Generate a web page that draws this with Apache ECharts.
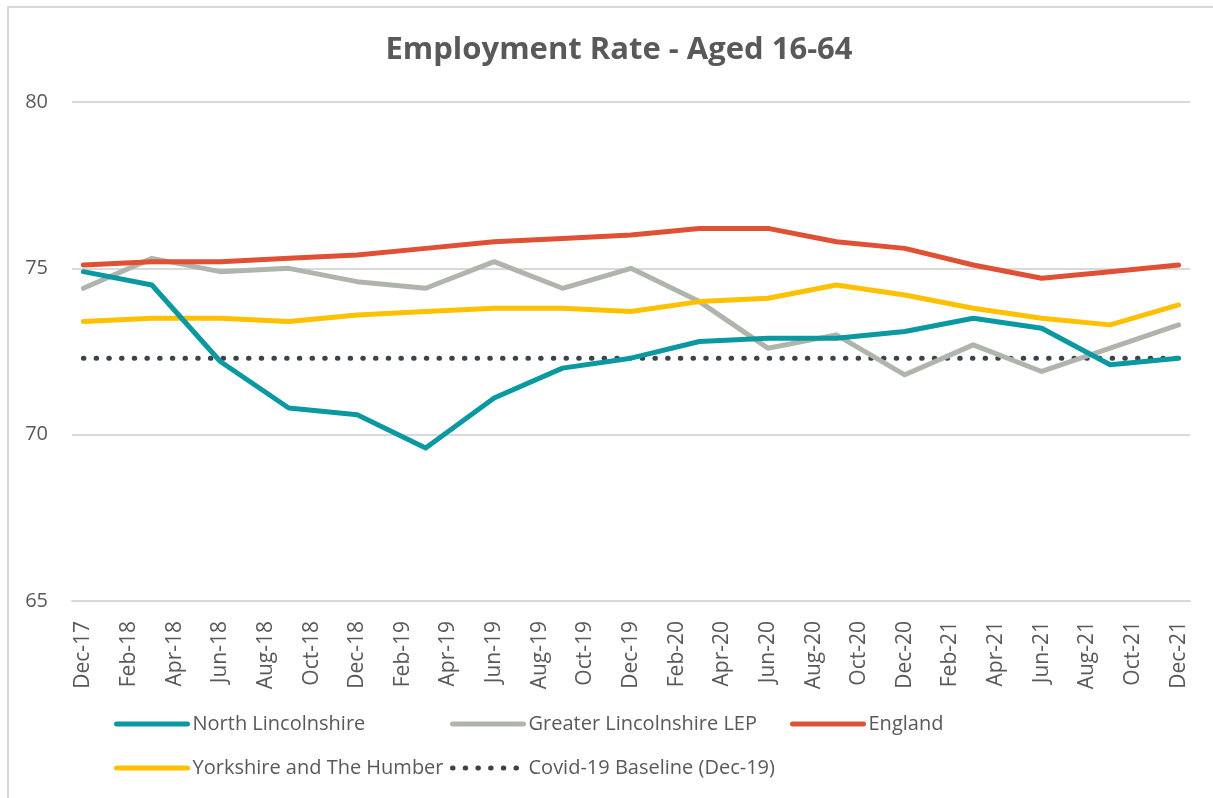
<!DOCTYPE html>
<html>
<head>
<meta charset="utf-8">
<title>Employment Rate - Aged 16-64</title>
<script src="https://cdn.jsdelivr.net/npm/echarts@6/dist/echarts.min.js"></script>
<style>
  html, body { margin: 0; padding: 0; background: #ffffff; }
  #chart { width: 1213px; height: 798px; }
</style>
</head>
<body>
<div id="chart"></div>
<script>
// Monthly category axis (labels shown every other month)
const months = [
  'Dec-17','Jan-18','Feb-18','Mar-18','Apr-18','May-18','Jun-18','Jul-18','Aug-18','Sep-18','Oct-18','Nov-18',
  'Dec-18','Jan-19','Feb-19','Mar-19','Apr-19','May-19','Jun-19','Jul-19','Aug-19','Sep-19','Oct-19','Nov-19',
  'Dec-19','Jan-20','Feb-20','Mar-20','Apr-20','May-20','Jun-20','Jul-20','Aug-20','Sep-20','Oct-20','Nov-20',
  'Dec-20','Jan-21','Feb-21','Mar-21','Apr-21','May-21','Jun-21','Jul-21','Aug-21','Sep-21','Oct-21','Nov-21',
  'Dec-21'
];

// Quarterly observation periods
const quarters = [
  'Dec-17','Mar-18','Jun-18','Sep-18','Dec-18','Mar-19','Jun-19','Sep-19','Dec-19',
  'Mar-20','Jun-20','Sep-20','Dec-20','Mar-21','Jun-21','Sep-21','Dec-21'
];

// Employment rate (%), aged 16-64
const northLincolnshire = [74.9, 74.5, 72.2, 70.8, 70.6, 69.6, 71.1, 72.0, 72.3, 72.8, 72.9, 72.9, 73.1, 73.5, 73.2, 72.1, 72.3];
const greaterLincsLEP   = [74.4, 75.3, 74.9, 75.0, 74.6, 74.4, 75.2, 74.4, 75.0, 74.0, 72.6, 73.0, 71.8, 72.7, 71.9, 72.6, 73.3];
const england           = [75.1, 75.2, 75.2, 75.3, 75.4, 75.6, 75.8, 75.9, 76.0, 76.2, 76.2, 75.8, 75.6, 75.1, 74.7, 74.9, 75.1];
const yorkshireHumber   = [73.4, 73.5, 73.5, 73.4, 73.6, 73.7, 73.8, 73.8, 73.7, 74.0, 74.1, 74.5, 74.2, 73.8, 73.5, 73.3, 73.9];

// Covid-19 baseline: North Lincolnshire rate at Dec-19
const covidBaseline = 72.3;

const yTicks = { min: 65, max: 80, step: 5 };

// Place quarterly values on the monthly axis
function toMonthly(values) {
  const out = months.map(() => null);
  quarters.forEach((q, i) => { out[months.indexOf(q)] = values[i]; });
  return out;
}

const FONT = '"Open Sans", "Noto Sans", sans-serif';
const TEXT = '#595959';
const DOTS = [0.5, 12.2];

function lineSeries(name, values, color, extra) {
  return Object.assign({
    name: name,
    type: 'line',
    data: toMonthly(values),
    connectNulls: true,
    symbol: 'none',
    smooth: false,
    silent: true,
    lineStyle: { color: color, width: 5, cap: 'round', join: 'round' },
    itemStyle: { color: color }
  }, extra || {});
}

function legendAt(name, left, top, dotted) {
  return {
    data: [name],
    left: left,
    top: top,
    padding: 0,
    itemWidth: 71,
    itemHeight: 14,
    itemGap: 0,
    selectedMode: false,
    itemStyle: { opacity: 0 },
    lineStyle: { width: 5, cap: 'round', type: dotted ? DOTS : 'solid' },
    textStyle: { fontFamily: FONT, fontSize: 20, color: TEXT }
  };
}

const chart = echarts.init(document.getElementById('chart'), null, { renderer: 'canvas' });

chart.setOption({
  animation: false,
  backgroundColor: '#ffffff',
  title: {
    text: 'Employment Rate - Aged 16-64',
    left: 614,
    top: 30,
    textAlign: 'center',
    textStyle: { fontFamily: FONT, fontSize: 31, fontWeight: 'bold', color: TEXT }
  },
  graphic: [{
    type: 'rect',
    shape: { x: 8, y: 7, width: 1400, height: 1000 },
    style: { fill: null, stroke: '#d9d9d9', lineWidth: 2 },
    silent: true,
    z: -1
  }],
  grid: { left: 72, right: 23, top: 102, bottom: 197, containLabel: false },
  xAxis: {
    type: 'category',
    data: months,
    boundaryGap: true,
    axisTick: { show: false },
    axisLine: { lineStyle: { color: '#d9d9d9', width: 2 } },
    axisLabel: {
      interval: 1,
      rotate: 90,
      margin: 20,
      fontFamily: FONT,
      fontSize: 21,
      color: TEXT
    },
    splitLine: { show: false }
  },
  yAxis: {
    type: 'value',
    min: yTicks.min,
    max: yTicks.max,
    interval: yTicks.step,
    axisLine: { show: false },
    axisTick: { show: false },
    axisLabel: { margin: 24, fontFamily: FONT, fontSize: 20, color: TEXT },
    splitLine: { lineStyle: { color: '#d9d9d9', width: 2 } }
  },
  legend: [
    legendAt('North Lincolnshire', 114, 714),
    legendAt('Greater Lincolnshire LEP', 450, 714),
    legendAt('England', 790, 714),
    legendAt('Yorkshire and The Humber', 114, 758),
    legendAt('Covid-19 Baseline (Dec-19)', 450, 758, true)
  ],
  series: [
    lineSeries('Covid-19 Baseline (Dec-19)', quarters.map(() => covidBaseline), '#3a424b', {
      lineStyle: { color: '#3a424b', width: 5, type: DOTS, cap: 'round' },
      z: 1
    }),
    lineSeries('Greater Lincolnshire LEP', greaterLincsLEP, '#afb5ad', { z: 2 }),
    lineSeries('Yorkshire and The Humber', yorkshireHumber, '#ffc000', { z: 3 }),
    lineSeries('England', england, '#df5035', { z: 4 }),
    lineSeries('North Lincolnshire', northLincolnshire, '#0a98a1', { z: 5 })
  ]
});
</script>
</body>
</html>
